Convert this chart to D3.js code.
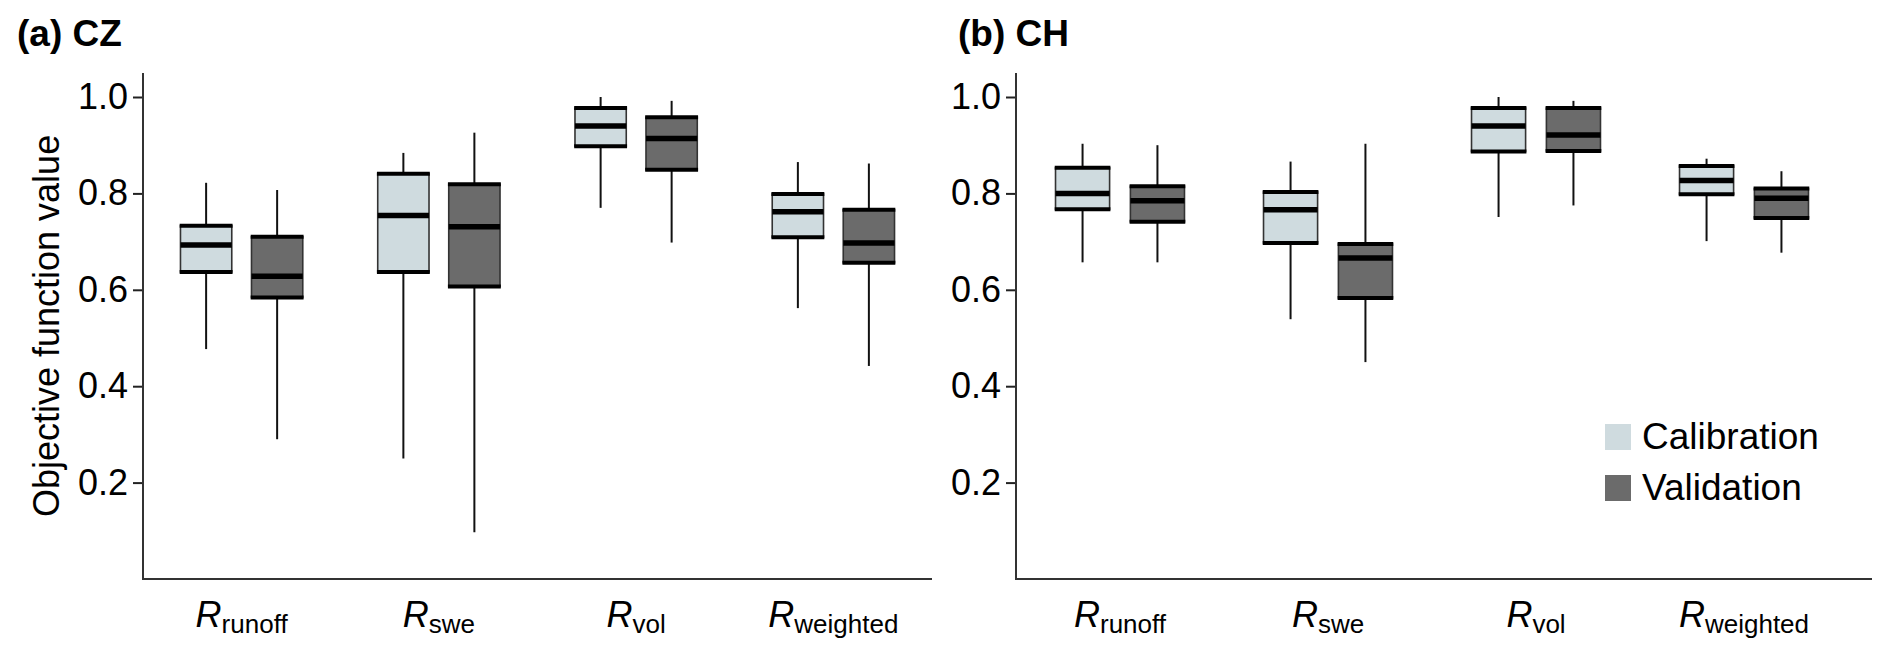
<!DOCTYPE html>
<html>
<head>
<meta charset="utf-8">
<script src="https://cdn.jsdelivr.net/npm/d3@7"></script>
<style>
  html, body { margin: 0; padding: 0; background: #fff; }
  svg { display: block; }
  text { font-family: "Liberation Sans", Arial, Helvetica, sans-serif; fill: #000; }
</style>
</head>
<body>
<svg id="chart" width="1892" height="658"></svg>
<script>
// ---- data ----
const categories = ["runoff", "swe", "vol", "weighted"];
const seriesNames = ["Calibration", "Validation"];
const panelTitles = ["(a) CZ", "(b) CH"];
const yTicks = [0.2, 0.4, 0.6, 0.8, 1.0];
// each entry: [whisker low, q1, median, q3, whisker high]
const czCalibration = [[0.477, 0.637, 0.693, 0.733, 0.822], [0.250, 0.637, 0.754, 0.841, 0.884], [0.770, 0.898, 0.940, 0.977, 1.000], [0.562, 0.709, 0.762, 0.799, 0.865]];
const czValidation  = [[0.290, 0.584, 0.628, 0.710, 0.807], [0.097, 0.607, 0.731, 0.819, 0.926], [0.698, 0.849, 0.914, 0.958, 0.992], [0.442, 0.656, 0.697, 0.766, 0.862]];
const chCalibration = [[0.657, 0.767, 0.800, 0.853, 0.903], [0.539, 0.697, 0.766, 0.803, 0.866], [0.751, 0.887, 0.940, 0.977, 1.000], [0.701, 0.798, 0.827, 0.857, 0.872]];
const chValidation  = [[0.657, 0.741, 0.785, 0.815, 0.900], [0.450, 0.583, 0.666, 0.695, 0.903], [0.775, 0.888, 0.921, 0.977, 0.992], [0.677, 0.749, 0.790, 0.810, 0.846]];

const colors = { Calibration: "#cfdbdf", Validation: "#6b6b6b" };
const svg = d3.select("#chart");

const y = d3.scaleLinear().domain([0, 1]).range([579, 97]);
const yTopVal = 1.05;

const panels = [
  { title: panelTitles[0], titleX: 17, axisX: 143, axisEnd: 932, band: [143, 932], data: [czCalibration, czValidation], ylabel: true },
  { title: panelTitles[1], titleX: 958, axisX: 1016, axisEnd: 1872, band: [1016, 1848], data: [chCalibration, chValidation], ylabel: false }
];

panels.forEach(p => {
  const g = svg.append("g");
  g.append("text").attr("x", p.titleX).attr("y", 46)
    .attr("font-size", 37).attr("font-weight", "bold").text(p.title);

  const x = d3.scaleBand().domain(categories).range(p.band).padding(0);
  const bw = x.bandwidth();
  const off = bw * 0.18, boxW = bw * 0.26;

  // y axis
  const yAxis = d3.axisLeft(y).tickValues(yTicks).tickFormat(d3.format(".1f")).tickSize(10).tickPadding(5);
  const ga = g.append("g").attr("transform", `translate(${p.axisX},0)`).call(yAxis);
  ga.select(".domain").remove();
  ga.selectAll(".tick line").attr("stroke", "#222").attr("stroke-width", 2);
  ga.selectAll(".tick text").attr("font-size", 36).attr("fill", "#000")
    .style("font-family", '"Liberation Sans", Arial, sans-serif');
  g.append("line").attr("x1", p.axisX).attr("x2", p.axisX)
    .attr("y1", y(yTopVal)).attr("y2", y(0) + 1)
    .attr("stroke", "#333").attr("stroke-width", 2);
  g.append("line").attr("x1", p.axisX - 1).attr("x2", p.axisEnd)
    .attr("y1", y(0)).attr("y2", y(0))
    .attr("stroke", "#333").attr("stroke-width", 2);

  // category labels
  categories.forEach(c => {
    const t = g.append("text").attr("x", x(c) + bw / 2).attr("y", 627)
      .attr("text-anchor", "middle");
    t.append("tspan").attr("font-size", 36).attr("font-style", "italic").text("R");
    t.append("tspan").attr("font-size", 26).attr("dy", 6).text(c);
  });

  // boxes
  seriesNames.forEach((s, si) => {
    const vals = p.data[si];
    categories.forEach((c, ci) => {
      const [lo, q1, med, q3, hi] = vals[ci];
      const cx = x(c) + bw / 2 + (si === 0 ? -off : off);
      const bg = g.append("g");
      bg.append("line").attr("x1", cx).attr("x2", cx).attr("y1", y(hi)).attr("y2", y(q3))
        .attr("stroke", "#111").attr("stroke-width", 2);
      bg.append("line").attr("x1", cx).attr("x2", cx).attr("y1", y(q1)).attr("y2", y(lo))
        .attr("stroke", "#111").attr("stroke-width", 2);
      bg.append("rect").attr("x", cx - boxW / 2).attr("y", y(q3))
        .attr("width", boxW).attr("height", y(q1) - y(q3))
        .attr("fill", colors[s]).attr("stroke", "#333").attr("stroke-width", 1.6);
      [q1, q3].forEach(v => bg.append("line")
        .attr("x1", cx - boxW / 2 - 0.8).attr("x2", cx + boxW / 2 + 0.8)
        .attr("y1", y(v)).attr("y2", y(v)).attr("stroke", "#000").attr("stroke-width", 4));
      bg.append("line").attr("x1", cx - boxW / 2).attr("x2", cx + boxW / 2)
        .attr("y1", y(med)).attr("y2", y(med)).attr("stroke", "#000").attr("stroke-width", 5.5);
    });
  });

  if (p.ylabel) {
    g.append("text").attr("transform", `translate(59,${(y(yTopVal) + y(0)) / 2}) rotate(-90)`)
      .attr("text-anchor", "middle").attr("font-size", 36).text("Objective function value");
  }
});

// legend
const lg = svg.append("g").attr("transform", "translate(1605,424)");
seriesNames.forEach((s, i) => {
  lg.append("rect").attr("x", 0).attr("y", i * 51).attr("width", 26).attr("height", 26).attr("fill", colors[s]);
  lg.append("text").attr("x", 37).attr("y", i * 51 + 25).attr("font-size", 37).text(s);
});
</script>
</body>
</html>
